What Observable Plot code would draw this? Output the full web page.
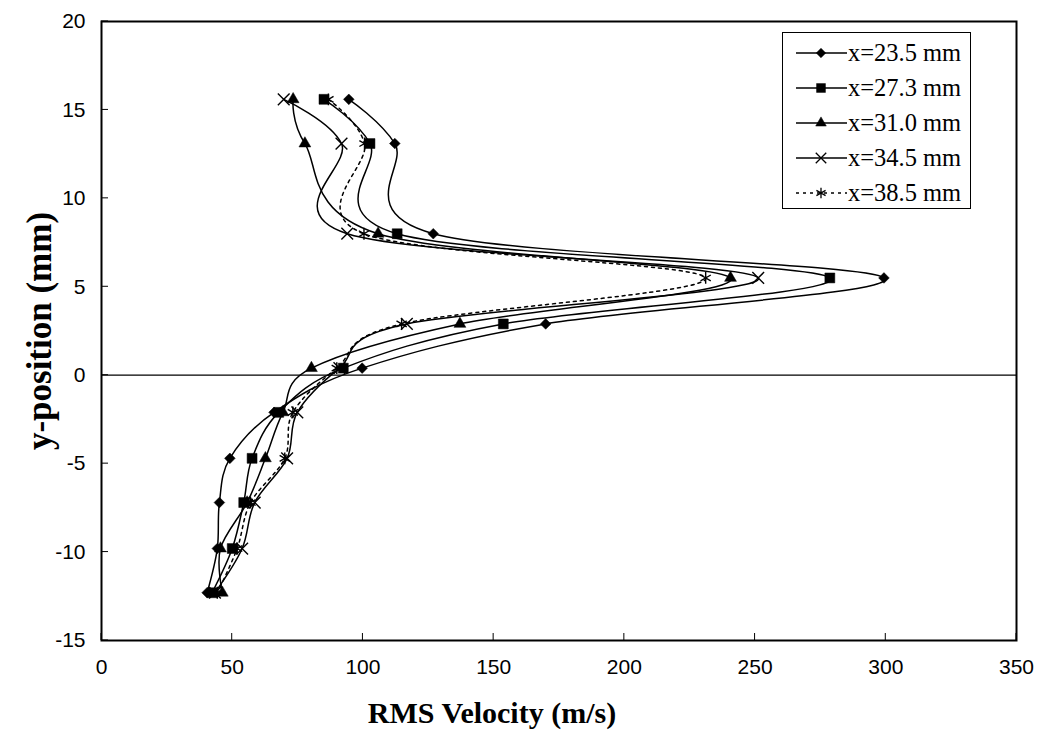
<!DOCTYPE html>
<html>
<head>
<meta charset="utf-8">
<script src="https://cdn.jsdelivr.net/npm/d3@7"></script>
<script src="https://cdn.jsdelivr.net/npm/@observablehq/plot@0.6"></script>
<style>
  html, body { margin: 0; padding: 0; background: #fff; }
  #chart { position: relative; width: 1040px; height: 740px; }
  #chart svg { display: block; }
  /* ticks point into the plotting area */
  #chart g[aria-label="x-axis tick"] { transform: translateY(-7px); }
  #chart g[aria-label="y-axis tick"] { transform: translateX(7px); }
  #chart g[aria-label="x-axis tick label"],
  #chart g[aria-label="y-axis tick label"] { font: 21px "Liberation Sans", Arial, sans-serif; fill: #000; }
  #chart g[aria-label="x-axis label"] { font: bold 30px "Liberation Serif", "Times New Roman", serif; fill: #000; }
  #chart g[aria-label="y-axis label"] { font: bold 35px "Liberation Serif", "Times New Roman", serif; fill: #000; }
  .legend {
    position: absolute; left: 782px; top: 32px; width: 189px; height: 177px;
    border: 1px solid #000; background: #fff; box-sizing: border-box;
    font: 24.5px "Liberation Serif", "Times New Roman", serif; color: #000;
  }
  .legend .row { position: absolute; left: 12px; height: 24px; display: flex; align-items: center; white-space: nowrap; }
  .legend svg { display: block; margin-right: 0; }
</style>
</head>
<body>
<div id="chart"></div>
<script>
// Measurement stations (streamwise position) and the traverse positions
const stations = ["x=23.5 mm", "x=27.3 mm", "x=31.0 mm", "x=34.5 mm", "x=38.5 mm"];
const yPosition = [15.6, 13.1, 8.0, 5.5, 2.9, 0.4, -2.1, -4.7, -7.2, -9.8, -12.3];

// RMS velocity (m/s) at each y-position, one array per station
const rms235 = [94.6, 112.2, 126.9, 299.3, 169.9, 99.7, 66.0, 49.1, 45.1, 44.3, 40.4];
const rms273 = [85.1, 102.7, 113.1, 278.6, 153.7, 92.5, 67.8, 57.6, 54.4, 50.0, 42.3];
const rms310 = [73.3, 77.8, 105.8, 240.6, 137.1, 80.3, 69.4, 62.7, 55.7, 45.5, 46.2];
const rms345 = [69.7, 91.8, 94.0, 251.2, 116.8, 91.0, 74.9, 71.0, 58.6, 53.8, 43.4];
const rms385 = [86.8, 100.6, 100.4, 231.1, 114.8, 90.0, 73.2, 70.1, 57.0, 51.9, 44.3];

// Axis ticks
const xTicks = [0, 50, 100, 150, 200, 250, 300, 350];
const yTicks = [-15, -10, -5, 0, 5, 10, 15, 20];

// Drawing styles per station
const styles = [
  {symbol: "diamond2", r: 4.8, filled: true,  dash: null},
  {symbol: "square",   r: 5.6, filled: true,  dash: null},
  {symbol: "triangle", r: 4.4, filled: true,  dash: null},
  {symbol: "times",    r: 5.4, filled: false, dash: null},
  {symbol: "asterisk", r: 5.6, filled: false, dash: "3,4"}
];

const seriesValues = [rms235, rms273, rms310, rms345, rms385];
const series = stations.map((name, i) => ({
  name,
  style: styles[i],
  rows: yPosition.map((y, j) => ({station: name, y, v: seriesValues[i][j]}))
}));

const marks = [Plot.ruleY([0], {stroke: "#000", strokeWidth: 1.2})];
for (const s of series) {
  marks.push(Plot.line(s.rows, {
    x: "v", y: "y", curve: "cardinal",
    stroke: "#000", strokeWidth: 1.5,
    strokeDasharray: s.style.dash ?? undefined
  }));
}
for (const s of series) {
  marks.push(Plot.dot(s.rows, {
    x: "v", y: "y", symbol: s.style.symbol, r: s.style.r,
    fill: s.style.filled ? "#000" : "none",
    stroke: "#000", strokeWidth: s.style.filled ? 0.5 : 1.4
  }));
}
marks.push(Plot.frame({stroke: "#000", strokeWidth: 2}));
marks.push(Plot.axisX(xTicks, {
  tickSize: 7, tickPadding: 12, tickFormat: d => String(d),
  label: "RMS Velocity (m/s)", labelAnchor: "center", labelArrow: "none", labelOffset: 82
}));
marks.push(Plot.axisY(yTicks, {
  tickSize: 7, tickPadding: 9, tickFormat: d => String(d),
  label: "y-position (mm)", labelAnchor: "center", labelArrow: "none", labelOffset: 75
}));

const chart = Plot.plot({
  width: 1040,
  height: 740,
  marginLeft: 101,
  marginRight: 24,
  marginTop: 21,
  marginBottom: 100,
  style: {background: "#fff", color: "#000", overflow: "visible"},
  x: {domain: [0, 350]},
  y: {domain: [-15, 20]},
  marks
});

// The x-axis title sits a little left of the frame's centre
d3.select(chart).select('g[aria-label="x-axis label"] text').attr("dx", -67);

const root = document.getElementById("chart");
root.appendChild(chart);

// Legend box
const legend = document.createElement("div");
legend.className = "legend";
const symMap = {diamond2: d3.symbolDiamond2, square: d3.symbolSquare, triangle: d3.symbolTriangle,
                times: d3.symbolTimes, asterisk: d3.symbolAsterisk};
series.forEach((s, i) => {
  const row = document.createElement("div");
  row.className = "row";
  row.style.top = (8 + i * 35) + "px";
  const sw = d3.create("svg").attr("width", 53).attr("height", 24);
  sw.append("line").attr("x1", 1).attr("x2", 52).attr("y1", 12).attr("y2", 12)
    .attr("stroke", "#000").attr("stroke-width", 1.5)
    .attr("stroke-dasharray", s.style.dash);
  sw.append("path").attr("transform", "translate(26,12)")
    .attr("d", d3.symbol(symMap[s.style.symbol], Math.PI * s.style.r * s.style.r * 0.8)())
    .attr("fill", s.style.filled ? "#000" : "none")
    .attr("stroke", "#000").attr("stroke-width", s.style.filled ? 0.5 : 1.3);
  row.appendChild(sw.node());
  const label = document.createElement("span");
  label.textContent = s.name;
  row.appendChild(label);
  legend.appendChild(row);
});
root.appendChild(legend);
</script>
</body>
</html>
